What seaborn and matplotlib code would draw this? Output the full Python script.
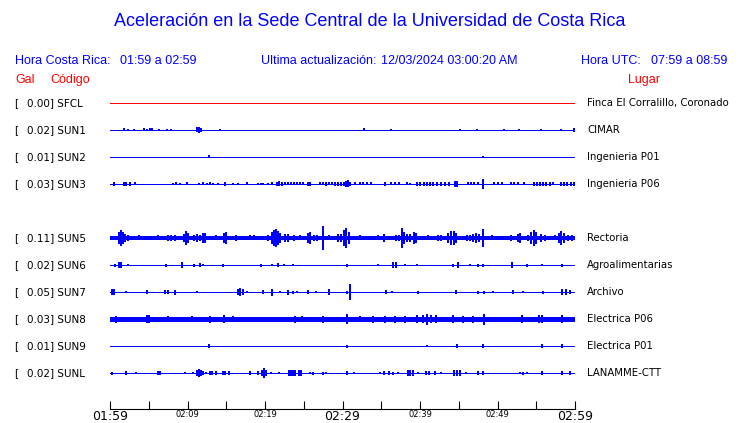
import matplotlib
matplotlib.use('Agg')
import matplotlib.pyplot as plt
import matplotlib.transforms as mtransforms
import seaborn as sns

# station info, top to bottom (row 4 is empty, SUN4 not reporting)
codes = ['SFCL', 'SUN1', 'SUN2', 'SUN3', 'SUN5', 'SUN6', 'SUN7', 'SUN8', 'SUN9', 'SUNL']
peaks = [0.00, 0.02, 0.01, 0.03, 0.11, 0.02, 0.05, 0.03, 0.01, 0.02]
places = ['Finca El Corralillo, Coronado', 'CIMAR', 'Ingenieria P01', 'Ingenieria P06',
          'Rectoria', 'Agroalimentarias', 'Archivo', 'Electrica P06', 'Electrica P01',
          'LANAMME-CTT']
rows = [0, 1, 2, 3, 5, 6, 7, 8, 9, 10]
# background noise half-width (display counts)
noise = [0, 0, 0, 0, 1.5, 0, 0, 2, 0, 0]

# bursts: minutes after 01:59 and half amplitude (display counts, 27 per row)
sfcl_t = []
sfcl_a = []
sun1_t = [1.8, 2.3, 3.1, 4.4, 4.8, 5.2, 5.4, 6.3, 7.4, 7.9, 11.2, 11.5, 11.7, 14.2,
          32.8, 36.3, 45.2, 47.4, 50.8, 52.8, 55.6, 58.2, 59.9]
sun1_a = [1.5, 1, 1, 1.5, 1, 1.5, 1.5, 1, 1, 1, 2.5, 3, 2, 1,
          1.5, 1, 1, 1, 1, 1, 1, 1, 2]
sun2_t = [12.8, 48.1]
sun2_a = [1.5, 1]
sun3_t = [0.5, 1.8, 2.1, 2.6, 3.2, 8.1, 8.5, 9.0, 9.9, 11.5, 12.0, 12.5, 12.9, 13.3,
          13.9, 14.8, 15.9, 16.5, 17.7, 19.1, 19.5, 19.7, 20.4, 20.9, 21.5, 21.8, 22.2,
          22.6, 23.0, 23.4, 23.7, 24.1, 24.5, 24.9, 25.5, 25.8, 27.1, 27.5, 27.9, 28.3,
          28.6, 29.0, 29.4, 29.8, 30.2, 30.5, 30.7, 31.0, 31.6, 32.3, 32.6, 33.2, 33.7,
          35.5, 36.3, 36.8, 37.3, 38.3, 38.7, 39.6, 40.0, 40.5, 40.9, 41.3, 41.7, 42.2,
          42.7, 43.2, 43.7, 44.5, 44.8, 46.2, 46.6, 47.0, 47.5, 48.1, 49.5, 50.1, 50.6,
          51.7, 52.1, 52.6, 53.4, 54.7, 55.1, 55.5, 55.9, 56.3, 56.8, 57.2, 58.2, 58.6,
          59.0, 59.5, 59.9]
sun3_a = [2, 2, 2, 2, 1.5, 1, 1.5, 1, 1.5, 1, 1.5, 1, 1.5, 1,
          1, 2, 1, 1, 1.5, 1, 1, 1, 1, 1.5, 2, 2.5, 2,
          1.5, 1.5, 1.5, 1.5, 1.5, 1.5, 1.5, 2, 2, 1.5, 1.5, 2, 1.5,
          1.5, 2, 2, 2, 2, 3, 3.5, 2, 1.5, 1.5, 1.5, 1.5, 1.5,
          2, 1.5, 1.5, 1.5, 1.5, 1, 2, 2, 2, 2, 2, 2, 2,
          2, 2, 2, 3, 3, 1.5, 1.5, 1.5, 1.5, 5, 1.5, 1.5, 1.5,
          1.5, 1.5, 1.5, 1.5, 2, 2, 2, 2, 2, 2, 1.5, 2, 2,
          2, 2, 2]
sun5_t = [1.2, 1.4, 1.7, 1.9, 2.3, 3.7, 6.2, 7.5, 7.9, 8.4, 9.5, 9.8, 10.1, 10.8,
          11.2, 11.6, 12.0, 12.3, 13.7, 14.7, 15.0, 16.3, 18.1, 18.6, 20.4, 20.9, 21.2,
          21.4, 21.7, 21.9, 22.6, 23.0, 23.7, 24.5, 25.5, 25.8, 26.3, 26.7, 27.5, 28.3,
          29.4, 29.8, 30.2, 30.5, 30.8, 32.3, 34.6, 35.4, 36.9, 37.3, 37.7, 37.9, 38.3,
          38.7, 39.2, 39.5, 41.0, 42.3, 42.7, 43.6, 44.0, 44.4, 44.6, 46.1, 46.5, 46.8,
          47.2, 47.6, 48.1, 49.3, 51.7, 52.6, 52.9, 53.9, 54.3, 54.7, 55.0, 55.6, 56.1,
          57.4, 57.9, 58.2, 58.6, 59.1, 59.6]
sun5_a = [6, 8, 6, 4, 3, 2.5, 2.5, 3, 3, 3, 4, 7, 5, 3,
          4, 3, 5, 5, 2.5, 5, 6, 3, 2.5, 2.5, 3, 6, 8,
          9, 7, 5, 4, 4, 3, 2.5, 5, 6, 3, 3, 12, 2.5,
          4, 4, 8, 10, 6, 2.5, 2.5, 4, 3, 3, 10, 6, 4,
          4, 6, 5, 2.5, 3, 3, 5, 7, 7, 5, 3, 3, 4,
          5, 4, 9, 2.5, 3, 4, 5, 3, 6, 8, 6, 4, 3,
          2.5, 5, 7, 5, 3, 3]
sun6_t = [0.6, 1.2, 1.4, 2.3, 7.2, 9.3, 10.8, 11.6, 12.0, 14.6, 19.5, 20.9, 21.7, 22.5,
          23.6, 30.6, 34.6, 36.5, 36.9, 38.1, 39.6, 44.3, 44.9, 46.5, 47.5, 48.1, 51.9,
          53.8, 55.7, 58.3]
sun6_a = [1.5, 3, 3, 1, 1.5, 3, 1.5, 2, 1, 1.5, 1.5, 1, 2, 1,
          1, 1.5, 1, 3, 3, 1, 1, 1.5, 3, 1, 1.5, 1.5, 3,
          1.5, 1, 1.5]
sun7_t = [0.3, 0.5, 2.1, 4.8, 7.1, 7.5, 8.4, 11.2, 16.5, 16.8, 17.2, 17.7, 19.7, 20.9,
          21.9, 23.0, 23.6, 24.1, 25.5, 26.6, 28.3, 30.6, 31.0, 35.6, 36.4, 39.7, 44.6,
          47.5, 48.3, 49.4, 52.0, 53.3, 55.9, 58.3, 58.8, 59.4]
sun7_a = [3, 3, 1, 2, 2, 2, 2.5, 1, 3, 4, 3, 1, 2, 3.5,
          1, 2.5, 1.5, 1, 2, 1, 3, 1.5, 8, 2, 1, 1.5, 2,
          1.5, 1.5, 1, 2, 1, 1.5, 3, 3, 2]
sun8_t = [0.8, 4.8, 5.0, 7.5, 10.6, 12.9, 14.7, 15.9, 23.9, 24.8, 27.5, 30.6, 32.3, 33.9,
          35.5, 36.8, 38.1, 39.6, 40.4, 40.9, 41.4, 42.1, 44.3, 45.5, 46.8, 48.3, 53.2,
          55.4, 55.7, 58.3]
sun8_a = [3.5, 4.5, 4.5, 3, 3, 3.5, 4.5, 3, 3.5, 3, 3.5, 5, 3, 3.5,
          3.5, 3.5, 3.5, 4, 4, 5.5, 4, 4, 4, 3.5, 3.5, 5.5, 4.5,
          4.5, 4, 4.5]
sun9_t = [12.8, 30.6, 40.9, 44.8, 48.1, 55.7, 58.3]
sun9_a = [2, 1.5, 1, 2, 2, 2, 2]
sunl_t = [0.3, 2.1, 3.4, 6.2, 6.5, 9.7, 10.7, 11.2, 11.5, 11.7, 12.0, 12.4, 12.9, 13.2,
          13.7, 14.6, 14.8, 15.4, 18.1, 19.1, 19.6, 19.9, 20.1, 20.8, 21.8, 23.1, 23.4,
          23.6, 23.9, 24.4, 24.6, 25.8, 26.2, 27.5, 27.9, 30.6, 31.5, 34.8, 35.4, 36.0,
          36.5, 37.2, 38.5, 38.7, 39.1, 39.7, 40.8, 41.2, 41.9, 42.7, 44.4, 44.8, 45.2,
          45.9, 47.5, 48.1, 52.9, 53.3, 53.8, 55.7, 58.3, 59.4]
sunl_a = [1.5, 2, 1, 2, 2, 1, 1, 3, 4, 3, 2, 1, 2, 2,
          2, 2, 2, 2, 2, 2, 3, 5, 3, 1, 1, 2.5, 2.5,
          2.5, 2.5, 2.5, 2.5, 1, 1.5, 1.5, 1, 2, 1, 1, 2, 2,
          1.5, 1, 3, 3, 3, 1, 2, 2, 2, 1, 2.5, 2.5, 2.5,
          1, 2, 2, 1, 1.5, 1, 2, 2, 2]

burst_t = [sfcl_t, sun1_t, sun2_t, sun3_t, sun5_t, sun6_t, sun7_t, sun8_t, sun9_t, sunl_t]
burst_a = [sfcl_a, sun1_a, sun2_a, sun3_a, sun5_a, sun6_a, sun7_a, sun8_a, sun9_a, sunl_a]

span_min = [0, 60]
tick_min = list(range(0, 61, 5))
tick_lbl = {0: '01:59', 10: '02:09', 20: '02:19', 30: '02:29', 40: '02:39', 50: '02:49', 60: '02:59'}
row_counts = 27

sns.set_style('white')
plt.rcParams['font.family'] = ['DejaVu Sans']
plt.rcParams['text.color'] = 'black'
plt.rcParams['xtick.color'] = 'black'

blue = '#0000ff'
red = '#ff0000'

fig = plt.figure(figsize=(7.4, 4.23), dpi=100)
ax = fig.add_axes([110 / 740, 14 / 423, 465 / 740, 319 / 423])

for i, code in enumerate(codes):
    col = red if code == 'SFCL' else blue
    r = rows[i]
    sns.lineplot(x=span_min, y=[r, r], ax=ax, color=col,
                 linewidth=(1 + 2 * noise[i]) * 0.72, antialiased=False)
    if burst_t[i]:
        amp = [a / row_counts for a in burst_a[i]]
        ax.vlines(burst_t[i], [r - a for a in amp], [r + a for a in amp],
                  color=col, linewidth=1.1, antialiased=False)

ax.set_xlim(0, 60)
ax.set_ylim((409 - 103) / 27, (90 - 103) / 27)
ax.set_yticks([])
ax.set_xlabel('')
ax.set_ylabel('')
sns.despine(ax=ax, left=True, top=True, right=True)
ax.spines['bottom'].set_color('black')
ax.spines['bottom'].set_linewidth(0.8)
ax.set_xticks(tick_min)
ax.set_xticklabels([tick_lbl.get(m, '') for m in tick_min])
ax.tick_params(axis='x', direction='in', length=6, width=0.8, color='black',
               labelcolor='black', pad=1, bottom=True)
for m, lab in zip(tick_min, ax.get_xticklabels()):
    lab.set_fontsize(9 if m in (0, 30, 60) else 6)
    lab.set_va('top')

# station labels, left and right of the traces
tr = mtransforms.blended_transform_factory(fig.transFigure, ax.transData)
for i, code in enumerate(codes):
    r = rows[i]
    ax.text(14 / 740, r, '[', transform=tr, fontsize=7.5, va='center', ha='left')
    ax.text(27 / 740, r, f'{peaks[i]:.2f}] {code}', transform=tr, fontsize=7.5,
            va='center', ha='left')
    ax.text(587 / 740, r, places[i], transform=tr, fontsize=7.3, va='center', ha='left')

hdr = dict(family='Liberation Sans', color=blue, fontsize=9, va='center', ha='left')
fig.text(0.5, 1 - 22 / 423, 'Aceleración en la Sede Central de la Universidad de Costa Rica',
         family='Liberation Sans', color=blue, fontsize=13, va='center', ha='center')
fig.text(15 / 740, 1 - 61 / 423, 'Hora Costa Rica:', **hdr)
fig.text(120 / 740, 1 - 61 / 423, '01:59 a 02:59', **hdr)
fig.text(261 / 740, 1 - 61 / 423, 'Ultima actualización:', **hdr)
fig.text(381 / 740, 1 - 61 / 423, '12/03/2024 03:00:20 AM', **hdr)
fig.text(581 / 740, 1 - 61 / 423, 'Hora UTC:', **hdr)
fig.text(651 / 740, 1 - 61 / 423, '07:59 a 08:59', **hdr)
red_hdr = dict(hdr, color=red)
fig.text(15 / 740, 1 - 80 / 423, 'Gal', **red_hdr)
fig.text(50 / 740, 1 - 80 / 423, 'Código', **red_hdr)
fig.text(628 / 740, 1 - 80 / 423, 'Lugar', **red_hdr)

fig.savefig('out.png', dpi=100, facecolor='white')
